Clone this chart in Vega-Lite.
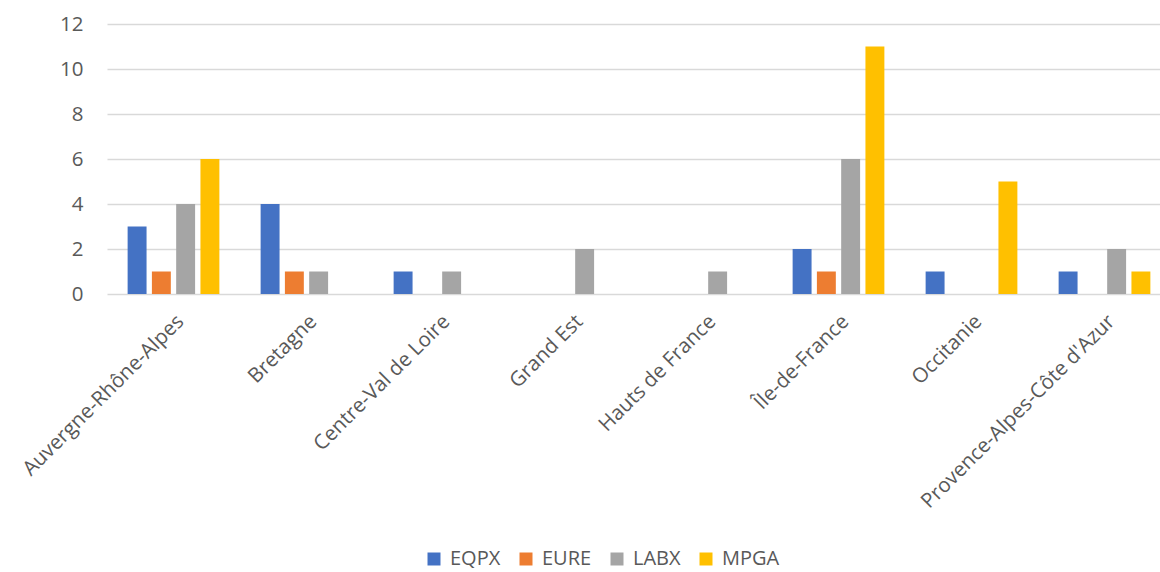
{
  "$schema": "https://vega.github.io/schema/vega-lite/v6.json",
  "autosize": {"type": "none"},
  "width": 1053,
  "height": 270,
  "padding": {"left": 107, "top": 24, "right": 0, "bottom": 278},
  "background": "white",
  "config": {
    "font": "Open Sans",
    "view": {"stroke": null}
  },
  "data": {
    "values": [
      {"region": "Auvergne-Rhône-Alpes", "type": "EQPX", "count": 3},
      {"region": "Auvergne-Rhône-Alpes", "type": "EURE", "count": 1},
      {"region": "Auvergne-Rhône-Alpes", "type": "LABX", "count": 4},
      {"region": "Auvergne-Rhône-Alpes", "type": "MPGA", "count": 6},
      {"region": "Bretagne", "type": "EQPX", "count": 4},
      {"region": "Bretagne", "type": "EURE", "count": 1},
      {"region": "Bretagne", "type": "LABX", "count": 1},
      {"region": "Bretagne", "type": "MPGA", "count": 0},
      {"region": "Centre-Val de Loire", "type": "EQPX", "count": 1},
      {"region": "Centre-Val de Loire", "type": "EURE", "count": 0},
      {"region": "Centre-Val de Loire", "type": "LABX", "count": 1},
      {"region": "Centre-Val de Loire", "type": "MPGA", "count": 0},
      {"region": "Grand Est", "type": "EQPX", "count": 0},
      {"region": "Grand Est", "type": "EURE", "count": 0},
      {"region": "Grand Est", "type": "LABX", "count": 2},
      {"region": "Grand Est", "type": "MPGA", "count": 0},
      {"region": "Hauts de France", "type": "EQPX", "count": 0},
      {"region": "Hauts de France", "type": "EURE", "count": 0},
      {"region": "Hauts de France", "type": "LABX", "count": 1},
      {"region": "Hauts de France", "type": "MPGA", "count": 0},
      {"region": "Île-de-France", "type": "EQPX", "count": 2},
      {"region": "Île-de-France", "type": "EURE", "count": 1},
      {"region": "Île-de-France", "type": "LABX", "count": 6},
      {"region": "Île-de-France", "type": "MPGA", "count": 11},
      {"region": "Occitanie", "type": "EQPX", "count": 1},
      {"region": "Occitanie", "type": "EURE", "count": 0},
      {"region": "Occitanie", "type": "LABX", "count": 0},
      {"region": "Occitanie", "type": "MPGA", "count": 5},
      {"region": "Provence-Alpes-Côte d'Azur", "type": "EQPX", "count": 1},
      {"region": "Provence-Alpes-Côte d'Azur", "type": "EURE", "count": 0},
      {"region": "Provence-Alpes-Côte d'Azur", "type": "LABX", "count": 2},
      {"region": "Provence-Alpes-Côte d'Azur", "type": "MPGA", "count": 1}
    ]
  },
  "mark": {"type": "bar"},
  "encoding": {
    "x": {
      "field": "region",
      "type": "nominal",
      "sort": null,
      "title": null,
      "scale": {"range": [0, 1064], "paddingInner": 0.27, "paddingOuter": 0.135},
      "axis": {
        "labelAngle": -45,
        "labelFontSize": 20.5,
        "labelColor": "#595959",
        "labelPadding": 17,
        "labelLimit": 400,
        "ticks": false,
        "domain": false,
        "grid": false
      }
    },
    "xOffset": {
      "field": "type",
      "type": "nominal",
      "scale": {"paddingInner": 0.22, "paddingOuter": 0.11}
    },
    "y": {
      "field": "count",
      "type": "quantitative",
      "title": null,
      "scale": {"domain": [0, 12], "nice": false},
      "axis": {
        "values": [0, 2, 4, 6, 8, 10, 12],
        "labelFontSize": 20.5,
        "labelColor": "#595959",
        "labelPadding": 24,
        "ticks": false,
        "domain": false,
        "gridColor": "#D9D9D9",
        "gridWidth": 1.3
      }
    },
    "color": {
      "field": "type",
      "type": "nominal",
      "title": null,
      "scale": {
        "domain": ["EQPX", "EURE", "LABX", "MPGA"],
        "range": ["#4472C4", "#ED7D31", "#A5A5A5", "#FFC000"]
      },
      "legend": {
        "orient": "none",
        "direction": "horizontal",
        "legendX": 317,
        "legendY": 525,
        "symbolType": "square",
        "symbolSize": 169,
        "symbolStrokeWidth": 0,
        "labelFontSize": 20,
        "labelColor": "#595959",
        "labelOffset": 6,
        "columnPadding": 15
      }
    }
  }
}
